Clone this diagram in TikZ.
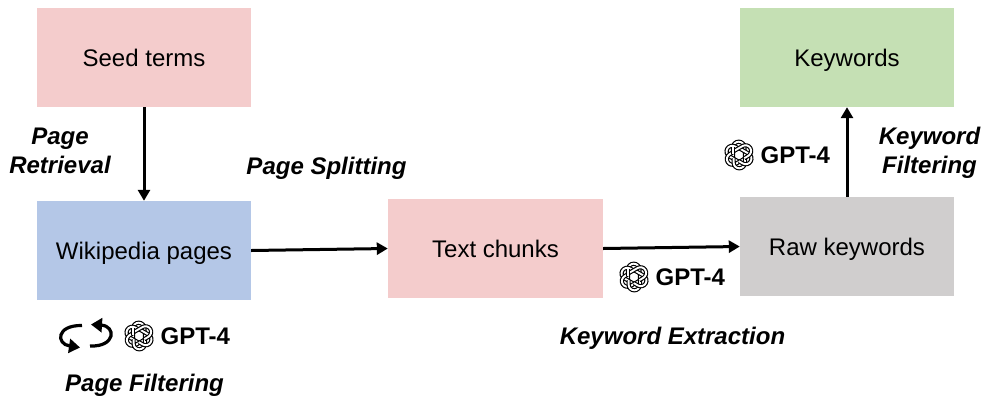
\documentclass[tikz,border=0pt]{standalone}
\usepackage{fontspec}
\setmainfont{Liberation Sans}
\usetikzlibrary{arrows.meta}
\definecolor{pinkbox}{RGB}{244,204,204}
\definecolor{bluebox}{RGB}{180,199,231}
\definecolor{greybox}{RGB}{208,206,206}
\definecolor{greenbox}{RGB}{197,224,180}
\tikzset{
  x=1pt,y=-1pt,
  box/.style={minimum width=214pt,minimum height=99pt,inner sep=0pt,font=\fontsize{24}{28}\selectfont,text=black,text height=17.5pt,text depth=0pt},
  flow/.style={line width=3pt,-{Triangle[length=11pt,width=12pt]}},
  stage/.style={font=\fontsize{24}{28.5}\selectfont\bfseries\itshape,align=center,inner sep=0pt},
  gptlabel/.style={font=\fontsize{24}{28}\selectfont\bfseries,inner sep=0pt,anchor=west},
  link/.style={draw=black,double=white,line width=1.15pt,double distance=1.9pt},
  cycle arrow/.style={line width=3.2pt,-{Triangle[length=11pt,width=14pt]}},
  pics/gptlogo/.style={code={
    \foreach \a in {0,60,...,300}{
      \draw[link,rotate=\a] (-6,3.5) -- (-6,-7.6) arc[start angle=180,end angle=0,radius=5.7pt] -- (5.4,-3);
    }
    \draw[link,rotate=0] (-6,-1) -- (-6,-7.6);
  }}
}
\begin{document}
\begin{tikzpicture}
\useasboundingbox (0,0) rectangle (995,407);
\node[box,fill=pinkbox] (seed) at (144,57.5) {Seed terms};
\node[box,fill=bluebox] (wiki) at (144,250.5) {Wikipedia pages};
\node[box,fill=pinkbox,minimum width=215pt] (chunks) at (495.5,248.5) {Text chunks};
\node[box,fill=greybox] (raw) at (847,246.5) {Raw keywords};
\node[box,fill=greenbox] (kw) at (847,57.5) {Keywords};
\draw[flow] (seed.south) -- (wiki.north);
\draw[flow] (wiki.east) -- (chunks.west);
\draw[flow] (chunks.east) -- (raw.west);
\draw[flow] (raw.north) -- (kw.south);
\node[stage] (s1) at (60,151) {Page\\Retrieval};
\node[stage] (s2) at (326.5,168) {Page Splitting};
\node[stage] (s3) at (144.5,385) {Page Filtering};
\node[stage] (s4) at (672.5,338) {Keyword Extraction};
\node[stage] (s5) at (929.5,153) {Keyword\\Filtering};
\pic at (739,155) {gptlogo};
\node[gptlabel] (g1) at (760.5,155.5) {GPT-4};
\pic at (634,277) {gptlogo};
\node[gptlabel] (g2) at (655.5,277.5) {GPT-4};
\pic at (139,336) {gptlogo};
\node[gptlabel] (g3) at (160.5,336.5) {GPT-4};
\coordinate (c1a) at (82,325.5);
\coordinate (c1b) at (80,347.5);
\coordinate (c2a) at (90,346);
\coordinate (c2b) at (91,324.5);
\draw[cycle arrow] (c1a) .. controls (56,325) and (56,344) .. (c1b);
\draw[cycle arrow] (c2a) .. controls (116,347) and (116,326) .. (c2b);
\end{tikzpicture}
\end{document}
